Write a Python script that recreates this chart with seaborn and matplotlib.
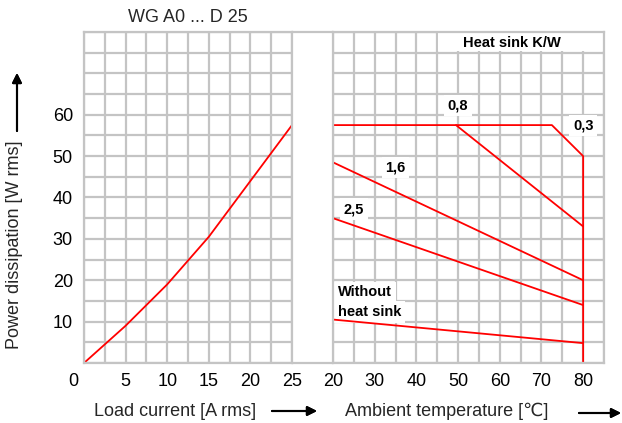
import matplotlib.pyplot as plt
import seaborn as sns
import pandas as pd
import matplotlib.transforms as mtransforms
from matplotlib.lines import Line2D
from matplotlib.patches import Rectangle
from matplotlib.ticker import MultipleLocator

sns.set_theme(style="white")
plt.rcParams['font.family'] = ['Liberation Sans', 'DejaVu Sans']

# Left panel: power dissipation vs load current
load_current = [0, 5, 10, 15, 20, 25]
load_power = [0, 9, 19, 30.5, 44, 57.5]

# Right panel: derating curves vs ambient temperature (one per heat sink)
sink_03_temp = [20, 72.5, 80, 80]
sink_03_power = [57.5, 57.5, 50, 0]
sink_08_temp = [49.5, 80]
sink_08_power = [57.5, 33]
sink_16_temp = [20, 80]
sink_16_power = [48.5, 20]
sink_25_temp = [20, 80]
sink_25_power = [35, 14]
no_sink_temp = [20, 80]
no_sink_power = [10.5, 4.8]

left_xticks = [0, 5, 10, 15, 20, 25]
right_xticks = [20, 30, 40, 50, 60, 70, 80]
yticks = [10, 20, 30, 40, 50, 60]

GRID = '#c4c4c4'
RED = '#ff0000'
W, H = 622, 423

fig = plt.figure(figsize=(W / 100, H / 100), dpi=100)
bottom, top = 1 - 363 / H, 1 - 32 / H
ax1 = fig.add_axes([84 / W, bottom, 208 / W, top - bottom])
ax2 = fig.add_axes([333 / W, bottom, 271 / W, top - bottom])

sns.lineplot(x=load_current, y=load_power, ax=ax1, color=RED, lw=1.3, sort=False)

curves = [(sink_03_temp, sink_03_power), (sink_08_temp, sink_08_power),
          (sink_16_temp, sink_16_power), (sink_25_temp, sink_25_power),
          (no_sink_temp, no_sink_power)]
for tx, py in curves:
    df = pd.DataFrame({'temp': tx, 'power': py})
    sns.lineplot(data=df, x='temp', y='power', ax=ax2, color=RED, lw=1.3,
                 sort=False, estimator=None)

ax1.set_xlim(0, 25)
ax1.set_xticks(left_xticks)
ax1.xaxis.set_minor_locator(MultipleLocator(2.5))
ax2.set_xlim(20, 85)
ax2.set_xticks(right_xticks)
ax2.xaxis.set_minor_locator(MultipleLocator(5))

for ax in (ax1, ax2):
    ax.set_ylim(0, 80)
    ax.set_yticks(yticks)
    ax.yaxis.set_minor_locator(MultipleLocator(5))
    ax.set_axisbelow(True)
    ax.grid(which='both', color=GRID, lw=1.6)
    for sp in ax.spines.values():
        sp.set_color(GRID)
        sp.set_linewidth(1.6)
    ax.tick_params(which='both', length=0, labelsize=13, colors='black')
    ax.tick_params(axis='x', pad=7)
    ax.tick_params(axis='y', pad=8)
    ax.set_xlabel('')
    ax.set_ylabel('')
ax2.tick_params(labelleft=False)

# shift the "0" label to the left like the original
shift = mtransforms.ScaledTranslation(-11 / 100, 0, fig.dpi_scale_trans)
lbl0 = ax1.xaxis.get_majorticklabels()[0]
lbl0.set_transform(lbl0.get_transform() + shift)

# frame lines across the gap
for yy in (bottom, top):
    fig.add_artist(Line2D([292 / W, 333 / W], [yy, yy], transform=fig.transFigure,
                          color=GRID, lw=1.6))

# labels inside the right panel (above the grid, below the red curves)
bold = dict(fontsize=10.5, fontweight='bold', color='black', zorder=1.5)
ax2.add_patch(Rectangle((45.3, 75.3), 39.7, 4.4, facecolor='white',
                        edgecolor='none', zorder=1))
ax2.text(51.3, 77.4, 'Heat sink K/W', ha='left', va='center', **bold)
box = dict(boxstyle='square,pad=0.25', facecolor='white', edgecolor='none')
ax2.text(50, 62.3, '0,8', ha='center', va='center', bbox=box, **bold)
ax2.text(80, 57.4, '0,3', ha='center', va='center', bbox=box, **bold)
ax2.text(35, 47.3, '1,6', ha='center', va='center', bbox=box, **bold)
ax2.text(25, 37.2, '2,5', ha='center', va='center', bbox=box, **bold)
ax2.text(21.2, 17.1, 'Without', ha='left', va='center', bbox=box, **bold)
ax2.text(21.2, 12.3, 'heat sink', ha='left', va='center', bbox=box, **bold)

# title and axis labels
fig.text(188 / W, 1 - 18 / H, 'WG A0 ... D 25', ha='center', va='center', fontsize=13)
fig.text(15 / W, 1 - 245 / H, 'Power dissipation [W rms]', rotation=90,
         ha='center', va='center', fontsize=13)
fig.text(175 / W, 1 - 411 / H, 'Load current [A rms]', ha='center', va='center', fontsize=13)
fig.text(447 / W, 1 - 411 / H, 'Ambient temperature [℃]', ha='center', va='center', fontsize=13)

arrow = dict(arrowstyle='-|>', color='black', lw=1.5, mutation_scale=14,
             shrinkA=0, shrinkB=0)
fig.add_artist(plt.annotate('', xy=(17 / W, 1 - 73 / H), xytext=(17 / W, 1 - 131 / H),
                            xycoords='figure fraction', arrowprops=arrow))
fig.add_artist(plt.annotate('', xy=(317 / W, 1 - 411 / H), xytext=(272 / W, 1 - 411 / H),
                            xycoords='figure fraction', arrowprops=arrow))
fig.add_artist(plt.annotate('', xy=(621 / W, 1 - 413 / H), xytext=(579 / W, 1 - 413 / H),
                            xycoords='figure fraction', arrowprops=arrow))

fig.savefig('out.png', dpi=100)
